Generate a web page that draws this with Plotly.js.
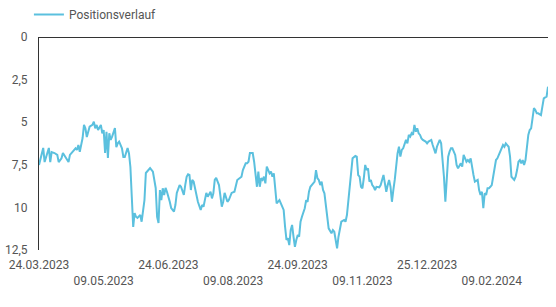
<!DOCTYPE html>
<html>
<head>
<meta charset="utf-8">
<script src="https://cdn.plot.ly/plotly-3.0.1.min.js"></script>
<style>html,body{margin:0;padding:0;background:#fff;}#chart{width:556px;height:307px;}</style>
</head>
<body>
<div id="chart"></div>
<script>
// Series name
const seriesName = "Positionsverlauf";
// Start date of the series (24.03.2023); day offsets below are counted from it
const startDate = "2023-03-24";
const dayOffsets = [0,3,4,7,8,9,11,13,14,16,17,19,21,22,24,26,27,28,29,31,32,33,34,35,36,38,39,40,41,42,44,45,46,47,48,49,50,51,52,54,55,56,57,59,60,61,63,64,65,66,67,68,69,70,72,73,75,76,78,79,81,82,83,84,85,86,87,88,89,90,91,93,94,96,97,98,100,101,102,103,104,105,106,107,108,109,110,112,113,115,116,117,119,120,122,123,124,125,126,128,129,130,131,132,134,135,137,139,141,143,144,145,147,148,149,150,152,153,155,156,157,158,159,160,161,162,163,164,165,166,167,168,169,171,172,174,175,176,177,178,179,180,181,182,183,184,185,186,187,189,190,191,192,193,195,196,197,198,199,200,201,202,203,204,205,206,208,209,210,211,212,213,214,215,217,218,219,220,221,222,223,225,226,227,228,229,230,231,232,233,234,235,236,237,238,239,240,242,243,244,245,246,247,248,249,250,251,252,253,255,256,257,258,259,260,261,262,263,264,265,266,267,268,269,270,271,272,273,275,276,277,279,280,281,282,283,285,286,287,288,289,290,291,292,293,294,296,297,298,300,301,302,303,304,305,306,307,308,309,310,312,313,314,315,316,317,318,319,320,321,322,323,324,325,326,327,328,329,330,331,332,333,334,335,336,338,339,340,341,342,343,344,345,346,348,349,350,351,352,353,354,355,357,358,359,360,361,362];
// Position values
const positions = [7.51,6.51,7.34,6.51,7.34,6.75,6.81,6.92,7.34,7.12,6.81,7.12,7.34,6.92,6.75,6.53,6.63,6.34,6.73,5.93,5.16,5.36,5.87,5.46,5.26,5.16,4.97,5.36,5.16,5.46,5.16,5.65,5.46,6.81,5.56,7.10,5.65,6.04,5.85,5.34,6.46,6.24,6.14,6.53,7.04,7.04,6.51,6.83,7.63,9.39,11.15,10.33,10.55,10.62,10.45,10.84,9.57,7.98,7.81,7.69,7.90,8.39,8.86,10.55,10.92,8.98,9.57,8.88,9.27,8.86,9.08,9.67,10.04,10.25,9.86,9.15,8.69,8.79,8.98,9.27,8.69,8.20,8.06,8.10,8.98,8.39,8.49,9.27,9.67,10.15,9.86,9.96,9.15,9.37,9.08,9.47,9.17,8.39,8.27,8.69,9.45,9.96,9.67,9.15,9.67,9.57,9.15,9.08,8.39,8.27,8.20,7.81,7.41,7.41,7.32,6.81,6.81,7.32,8.79,7.90,8.79,8.29,8.39,8.20,8.59,7.61,7.81,8.00,7.90,8.20,8.00,9.17,9.76,9.57,9.76,10.15,11.13,11.91,11.81,12.21,11.33,11.03,11.72,12.31,11.91,11.62,11.72,10.84,10.55,10.05,9.57,9.67,9.08,8.79,8.59,8.49,7.81,8.29,8.39,8.69,8.49,8.98,9.17,9.86,10.35,11.23,11.52,11.33,11.43,11.91,12.40,11.72,11.13,10.84,10.74,10.84,10.45,9.57,8.59,7.71,7.12,6.98,7.02,8.10,8.20,8.79,8.88,8.29,7.51,7.81,7.71,8.49,8.39,8.69,8.79,8.98,8.79,8.82,8.69,8.39,8.10,8.59,9.08,8.69,8.39,8.79,9.67,8.98,8.39,6.83,6.44,7.02,6.63,6.53,6.24,6.04,6.24,5.75,5.85,5.65,5.75,5.16,5.56,5.36,5.65,5.75,5.95,6.04,6.14,6.24,6.14,6.04,6.34,6.63,6.83,6.44,6.04,6.24,7.12,8.20,9.67,8.39,7.02,6.73,6.53,6.53,6.92,7.51,7.71,7.41,7.61,6.92,7.12,7.32,7.22,7.32,7.12,7.71,8.10,8.49,8.39,8.98,9.27,9.08,10.05,9.17,9.27,8.88,8.88,8.79,8.69,8.20,7.61,7.22,7.12,6.92,6.73,6.53,6.34,6.44,6.24,6.34,6.44,7.02,8.20,8.39,8.20,7.81,7.32,7.22,7.41,7.22,7.51,7.22,5.75,5.46,5.36,4.77,4.18,4.28,4.48,4.48,4.58,4.09,3.60,3.54,3.50,2.92];
// X tick dates and labels
const xTickDates = ["2023-03-24","2023-05-09","2023-06-24","2023-08-09","2023-09-24","2023-11-09","2023-12-25","2024-02-09"];
const xTickLabels = ["24.03.2023","09.05.2023","24.06.2023","09.08.2023","24.09.2023","09.11.2023","25.12.2023","09.02.2024"];
// Y ticks
const yTickValues = [0, 2.5, 5, 7.5, 10, 12.5];

const t0 = Date.parse(startDate + "T00:00:00Z");
const dates = dayOffsets.map(d => new Date(t0 + d * 86400000).toISOString().slice(0, 10));
// alternate tick labels onto a second row
const xTickText = xTickLabels.map((s, i) => (i % 2 === 1 ? "<br>" + s : s));

const trace = {
  x: dates,
  y: positions,
  type: "scatter",
  mode: "lines",
  name: seriesName,
  line: { color: "#5bc0de", width: 2 },
  showlegend: true
};

const layout = {
  width: 556,
  height: 307,
  margin: { l: 39, r: 8, t: 37, b: 57 },
  paper_bgcolor: "#fff",
  plot_bgcolor: "#fff",
  separators: ",.",
  font: { family: "Roboto, sans-serif", size: 12, color: "#555" },
  showlegend: true,
  legend: {
    orientation: "h",
    xref: "container", yref: "container",
    x: 0.052, y: 1.0, xanchor: "left", yanchor: "top",
    font: { family: "Roboto, sans-serif", size: 12, color: "#555" },
    bgcolor: "rgba(0,0,0,0)"
  },
  xaxis: {
    type: "date",
    range: [dates[0], dates[dates.length - 1]],
    tickvals: xTickDates,
    ticktext: xTickText,
    showgrid: false,
    zeroline: false,
    showline: false,
    ticks: "outside",
    ticklen: 4,
    tickcolor: "rgba(0,0,0,0)",
    tickfont: { family: "Roboto, sans-serif", size: 12, color: "#555" }
  },
  yaxis: {
    range: [12.5, 0],
    tickvals: yTickValues,
    showgrid: false,
    zeroline: true,
    zerolinecolor: "#333",
    zerolinewidth: 1,
    showline: true,
    linecolor: "#333",
    linewidth: 1,
    ticks: "outside",
    ticklen: 8,
    tickcolor: "rgba(0,0,0,0)",
    tickfont: { family: "Roboto, sans-serif", size: 12, color: "#555" }
  }
};

Plotly.newPlot("chart", [trace], layout, { displayModeBar: false, staticPlot: true });
</script>
</body>
</html>
